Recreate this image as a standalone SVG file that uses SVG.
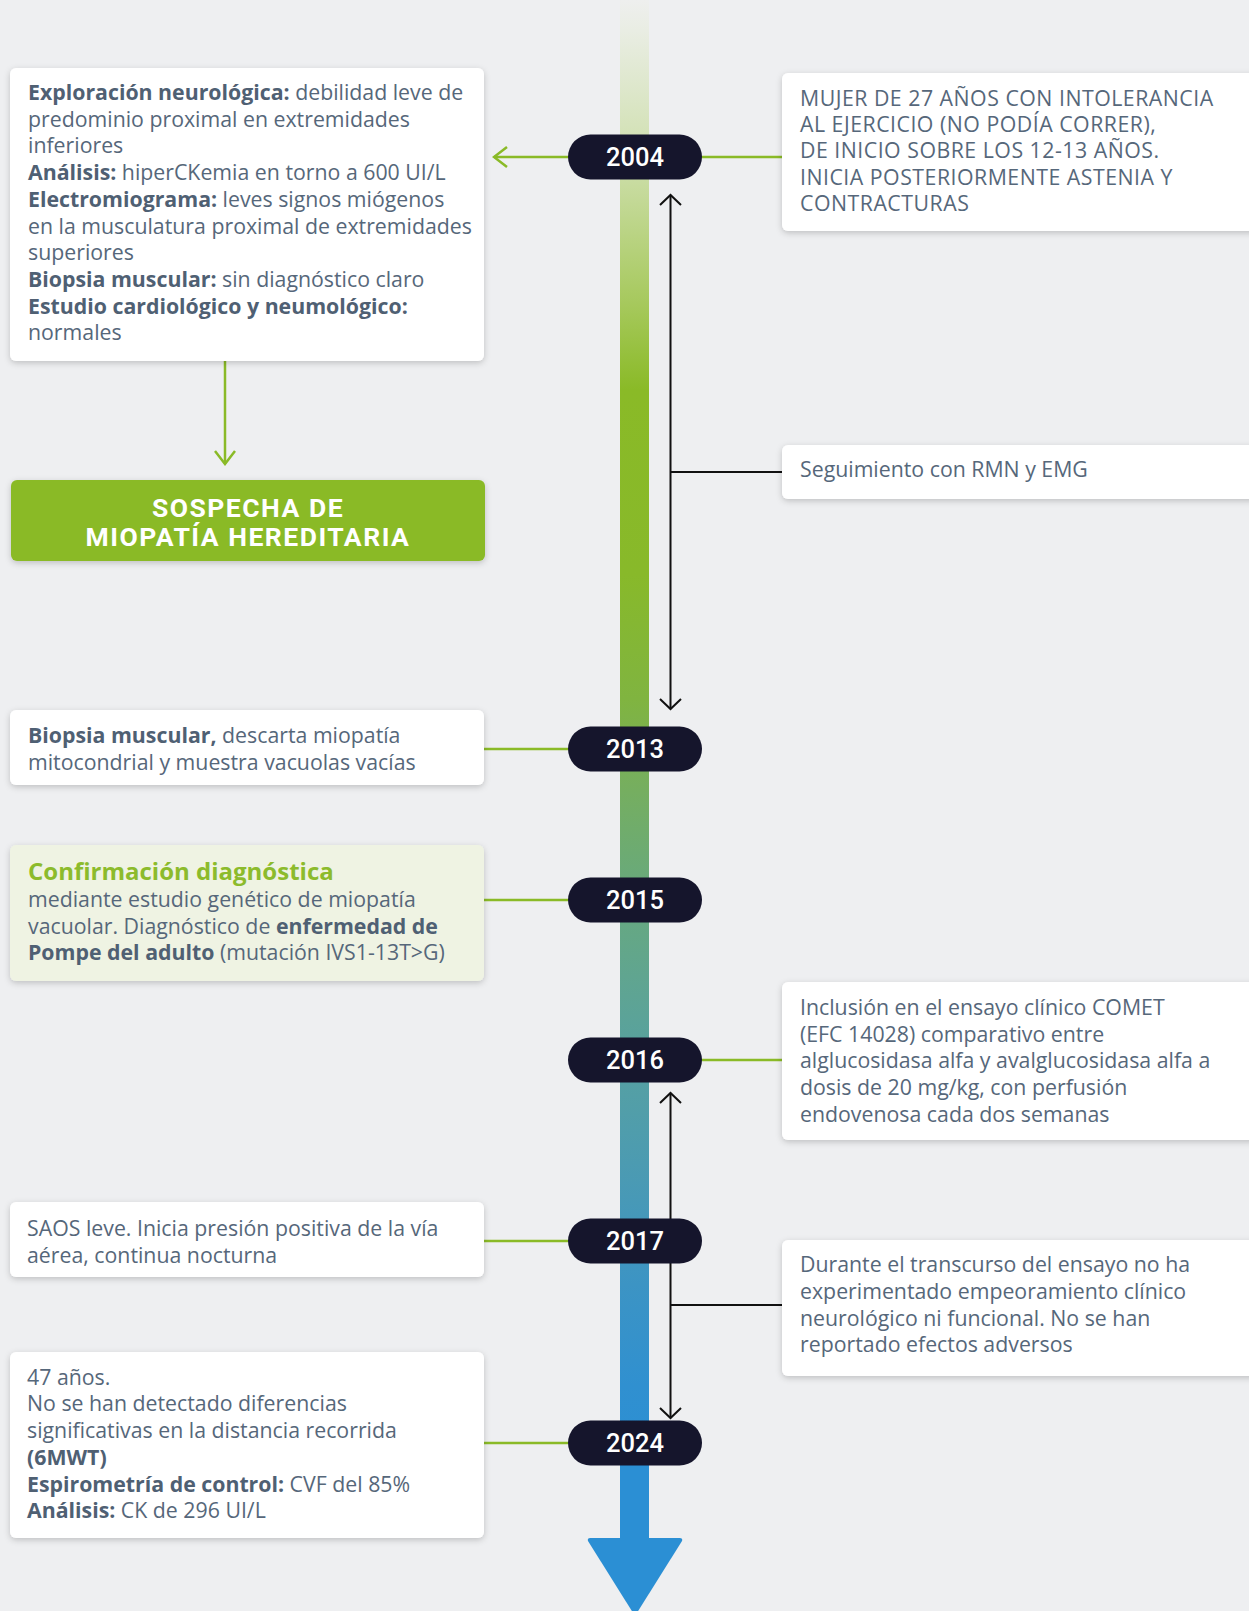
<svg xmlns="http://www.w3.org/2000/svg" width="1249" height="1611" viewBox="0 0 1249 1611">
<style>
.bg{fill:#eeeff1}
.box{fill:#ffffff;filter:url(#sh)}
.boxg{fill:#eff3e3;filter:url(#sh)}
.txt{font-family:"Open Sans","Liberation Sans",sans-serif;font-size:21.3px;fill:#56677a}
.b{font-weight:700;fill:#4f6073}
.caps{letter-spacing:0.5px}
.pill{fill:#15152c}
.year{font-family:Roboto,"Liberation Sans",sans-serif;font-size:25.5px;font-weight:500;fill:#ffffff;text-anchor:middle}
.gl{stroke:#8aba27;stroke-width:2.5;fill:none}
.kl{stroke:#111111;stroke-width:2;fill:none}
.title{font-family:"Open Sans","Liberation Sans",sans-serif;font-size:24px;font-weight:700;fill:#8cbb2c}
.sos{font-family:Roboto,"Liberation Sans",sans-serif;font-size:26.5px;font-weight:700;fill:#ffffff;text-anchor:middle;letter-spacing:1.5px}
</style>
<defs>
<linearGradient id="spine" gradientUnits="userSpaceOnUse" x1="0" y1="0" x2="0" y2="1540">
<stop offset="0" stop-color="#eeefee"/>
<stop offset="0.02" stop-color="#e9ede3"/>
<stop offset="0.1" stop-color="#d0e0b0"/>
<stop offset="0.2" stop-color="#a5c85a"/>
<stop offset="0.253" stop-color="#8aba27"/>
<stop offset="0.373" stop-color="#88b92a"/>
<stop offset="0.454" stop-color="#80b440"/>
<stop offset="0.5" stop-color="#78af5a"/>
<stop offset="0.567" stop-color="#6aaa78"/>
<stop offset="0.634" stop-color="#60a590"/>
<stop offset="0.7" stop-color="#55a0a4"/>
<stop offset="0.767" stop-color="#4a9ab4"/>
<stop offset="0.834" stop-color="#3c94c4"/>
<stop offset="0.9" stop-color="#3090d0"/>
<stop offset="0.95" stop-color="#2b8fd4"/>
<stop offset="1" stop-color="#2b8fd4"/>
</linearGradient>
<filter id="sh" x="-5%" y="-15%" width="110%" height="135%">
<feDropShadow dx="0" dy="2" stdDeviation="3" flood-color="#000000" flood-opacity="0.2"/>
</filter>
<marker id="ag" viewBox="-16 -12 18 24" refX="0" refY="0" markerWidth="18" markerHeight="24" markerUnits="userSpaceOnUse" orient="auto-start-reverse">
<path d="M-13,-10 L0,0 L-13,10" fill="none" stroke="#8aba27" stroke-width="2.5"/>
</marker>
<marker id="ak" viewBox="-13 -13 15 26" refX="0" refY="0" markerWidth="15" markerHeight="26" markerUnits="userSpaceOnUse" orient="auto-start-reverse">
<path d="M-10,-10.5 L0,0 L-10,10.5" fill="none" stroke="#111111" stroke-width="2"/>
</marker>
</defs>
<rect class="bg" x="0" y="0" width="1249" height="1611"/>

<g id="timeline">
<rect x="620" y="0" width="29" height="1540" fill="url(#spine)"/>
<path d="M590,1538 L680,1538 Q683,1538 682,1541 L635,1616 L588,1541 Q587,1538 590,1538 Z" fill="#2b8fd4"/>
</g>

<g id="connectors">
<path class="gl" d="M568,157 L494,157" marker-end="url(#ag)"/>
<path class="gl" d="M702,157 L782,157"/>
<path class="gl" d="M225,361 L225,464" marker-end="url(#ag)"/>
<path class="gl" d="M484,749 L568,749"/>
<path class="gl" d="M484,900 L568,900"/>
<path class="gl" d="M702,1060 L782,1060"/>
<path class="gl" d="M484,1241 L568,1241"/>
<path class="gl" d="M484,1443 L568,1443"/>
<path class="kl" d="M670.5,195 L670.5,709" marker-start="url(#ak)" marker-end="url(#ak)"/>
<path class="kl" d="M670.5,472 L782,472"/>
<path class="kl" d="M670.5,1093 L670.5,1418" marker-start="url(#ak)" marker-end="url(#ak)"/>
<path class="kl" d="M670.5,1305 L782,1305"/>
</g>

<g id="node-exploracion">
<rect class="box" x="10" y="68" width="474" height="293" rx="6"/>
<text class="txt" x="28" y="100"><tspan class="b">Exploración neurológica:</tspan> debilidad leve de</text>
<text class="txt" x="28" y="126.7">predominio proximal en extremidades</text>
<text class="txt" x="28" y="153.4">inferiores</text>
<text class="txt" x="28" y="180.1"><tspan class="b">Análisis:</tspan> hiperCKemia en torno a 600 UI/L</text>
<text class="txt" x="28" y="206.8"><tspan class="b">Electromiograma:</tspan> leves signos miógenos</text>
<text class="txt" x="28" y="233.5">en la musculatura proximal de extremidades</text>
<text class="txt" x="28" y="260.2">superiores</text>
<text class="txt" x="28" y="286.9"><tspan class="b">Biopsia muscular:</tspan> sin diagnóstico claro</text>
<text class="txt" x="28" y="313.6"><tspan class="b">Estudio cardiológico y neumológico:</tspan></text>
<text class="txt" x="28" y="340.3">normales</text>
</g>

<g id="node-mujer">
<rect class="box" x="782" y="73" width="480" height="158" rx="6"/>
<text class="txt caps" x="800" y="106">MUJER DE 27 AÑOS CON INTOLERANCIA</text>
<text class="txt caps" x="800" y="132.2">AL EJERCICIO (NO PODÍA CORRER),</text>
<text class="txt caps" x="800" y="158.4">DE INICIO SOBRE LOS 12-13 AÑOS.</text>
<text class="txt caps" x="800" y="184.6">INICIA POSTERIORMENTE ASTENIA Y</text>
<text class="txt caps" x="800" y="210.8">CONTRACTURAS</text>
</g>

<g id="node-seguimiento">
<rect class="box" x="782" y="445" width="480" height="54" rx="6"/>
<text class="txt" x="800" y="477">Seguimiento con RMN y EMG</text>
</g>

<g id="node-sospecha">
<rect x="11" y="480" width="474" height="81" rx="6" fill="#8aba27" filter="url(#sh)"/>
<text class="sos" x="248" y="517">SOSPECHA DE</text>
<text class="sos" x="248" y="545.5">MIOPATÍA HEREDITARIA</text>
</g>

<g id="node-biopsia">
<rect class="box" x="10" y="710" width="474" height="75" rx="6"/>
<text class="txt" x="28" y="743"><tspan class="b">Biopsia muscular,</tspan> descarta miopatía</text>
<text class="txt" x="28" y="769.7">mitocondrial y muestra vacuolas vacías</text>
</g>

<g id="node-confirmacion">
<rect class="boxg" x="10" y="845" width="474" height="136" rx="6"/>
<text class="title" x="28" y="880">Confirmación diagnóstica</text>
<text class="txt" x="28" y="907">mediante estudio genético de miopatía</text>
<text class="txt" x="28" y="933.5">vacuolar. Diagnóstico de <tspan class="b">enfermedad de</tspan></text>
<text class="txt" x="28" y="960"><tspan class="b">Pompe del adulto</tspan> (mutación IVS1-13T&gt;G)</text>
</g>

<g id="node-comet">
<rect class="box" x="782" y="982" width="480" height="158" rx="6"/>
<text class="txt" x="800" y="1015">Inclusión en el ensayo clínico COMET</text>
<text class="txt" x="800" y="1041.7">(EFC 14028) comparativo entre</text>
<text class="txt" x="800" y="1068.3">alglucosidasa alfa y avalglucosidasa alfa a</text>
<text class="txt" x="800" y="1095">dosis de 20 mg/kg, con perfusión</text>
<text class="txt" x="800" y="1121.7">endovenosa cada dos semanas</text>
</g>

<g id="node-saos">
<rect class="box" x="10" y="1202" width="474" height="75" rx="6"/>
<text class="txt" x="27" y="1236">SAOS leve. Inicia presión positiva de la vía</text>
<text class="txt" x="27" y="1262.7">aérea, continua nocturna</text>
</g>

<g id="node-durante">
<rect class="box" x="782" y="1240" width="480" height="136" rx="6"/>
<text class="txt" x="800" y="1272.3">Durante el transcurso del ensayo no ha</text>
<text class="txt" x="800" y="1299">experimentado empeoramiento clínico</text>
<text class="txt" x="800" y="1325.7">neurológico ni funcional. No se han</text>
<text class="txt" x="800" y="1352.4">reportado efectos adversos</text>
</g>

<g id="node-2024">
<rect class="box" x="10" y="1352" width="474" height="186" rx="6"/>
<text class="txt" x="27" y="1384.7">47 años.</text>
<text class="txt" x="27" y="1411.4">No se han detectado diferencias</text>
<text class="txt" x="27" y="1438.1">significativas en la distancia recorrida</text>
<text class="txt" x="27" y="1464.8"><tspan class="b">(6MWT)</tspan></text>
<text class="txt" x="27" y="1491.5"><tspan class="b">Espirometría de control:</tspan> CVF del 85%</text>
<text class="txt" x="27" y="1518.2"><tspan class="b">Análisis:</tspan> CK de 296 UI/L</text>
</g>

<g id="year-2004"><rect class="pill" x="568" y="134.5" width="134" height="45" rx="22.5"/><text class="year" x="635" y="166">2004</text></g>
<g id="year-2013"><rect class="pill" x="568" y="726.5" width="134" height="45" rx="22.5"/><text class="year" x="635" y="758">2013</text></g>
<g id="year-2015"><rect class="pill" x="568" y="877.5" width="134" height="45" rx="22.5"/><text class="year" x="635" y="909">2015</text></g>
<g id="year-2016"><rect class="pill" x="568" y="1037.5" width="134" height="45" rx="22.5"/><text class="year" x="635" y="1069">2016</text></g>
<g id="year-2017"><rect class="pill" x="568" y="1218.5" width="134" height="45" rx="22.5"/><text class="year" x="635" y="1250">2017</text></g>
<g id="year-2024"><rect class="pill" x="568" y="1420.5" width="134" height="45" rx="22.5"/><text class="year" x="635" y="1452">2024</text></g>
</svg>
